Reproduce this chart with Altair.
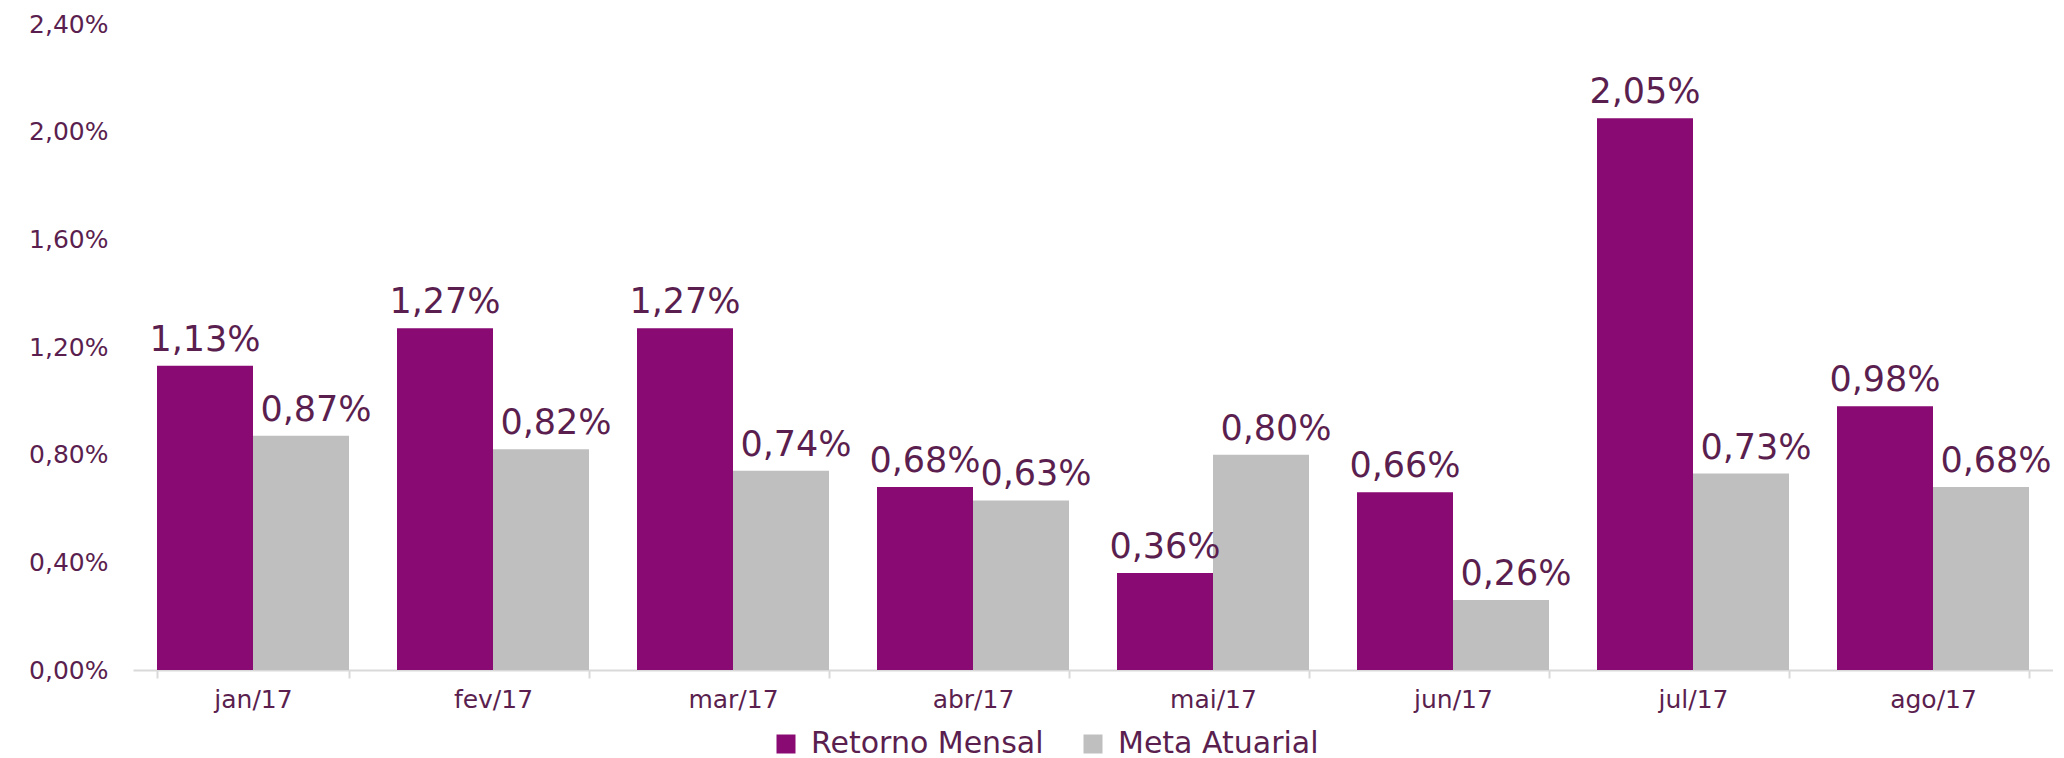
import altair as alt
import pandas as pd

months = ["jan/17", "fev/17", "mar/17", "abr/17", "mai/17", "jun/17", "jul/17", "ago/17"]
retorno = [1.13, 1.27, 1.27, 0.68, 0.36, 0.66, 2.05, 0.98]
meta = [0.87, 0.82, 0.74, 0.63, 0.80, 0.26, 0.73, 0.68]
series = ["Retorno Mensal", "Meta Atuarial"]
y_ticks = [0, 0.4, 0.8, 1.2, 1.6, 2.0, 2.4]

rows = []
for m, r, a in zip(months, retorno, meta):
    for s, v in zip(series, (r, a)):
        rows.append({"mes": m, "serie": s, "valor": v,
                     "rotulo": f"{v:.2f}%".replace(".", ",")})
df = pd.DataFrame(rows)

TXT = "#5B1F4F"
FONT = "DejaVu Sans"

base = alt.Chart(df).encode(
    x=alt.X("mes:N", sort=months, title=None,
            scale=alt.Scale(paddingInner=0.2, paddingOuter=0.1),
            axis=alt.Axis(labelAngle=0, labelFontSize=25, labelColor=TXT, labelFont=FONT,
                          domainColor="#D9D9D9", domainWidth=2, tickColor="#D9D9D9",
                          tickWidth=2, tickSize=8, tickBand="extent", labelPadding=9,
                          grid=False)),
    xOffset=alt.XOffset("serie:N", sort=series),
    y=alt.Y("valor:Q", title=None,
            scale=alt.Scale(domain=[0, 2.4], nice=False),
            axis=alt.Axis(values=y_ticks, grid=False, domain=False, ticks=False,
                          labelFontSize=25, labelColor=TXT, labelFont=FONT,
                          labelPadding=25, minExtent=125, maxExtent=125,
                          labelExpr="replace(format(datum.value, '.2f'), '.', ',') + '%'")),
)

bars = base.mark_bar().encode(
    color=alt.Color("serie:N", sort=series,
                    scale=alt.Scale(domain=series, range=["#880A72", "#BFBFBF"]),
                    legend=alt.Legend(title=None, orient="none", direction="horizontal",
                                      legendX=638, legendY=705,
                                      symbolType="square", symbolSize=361,
                                      symbolStrokeWidth=0, labelFontSize=30,
                                      labelColor=TXT, labelFont=FONT, labelOffset=10,
                                      columnPadding=34, labelLimit=400))
)

labels_ret = base.mark_text(fontSize=35, font=FONT, color=TXT, baseline="alphabetic",
                            dy=-15).encode(text="rotulo:N").transform_filter(
    alt.datum.serie == series[0])
labels_meta = base.mark_text(fontSize=35, font=FONT, color=TXT, baseline="alphabetic",
                             dy=-15, dx=15).encode(text="rotulo:N").transform_filter(
    alt.datum.serie == series[1])

chart = (bars + labels_ret + labels_meta).properties(
    width=1920, height=646,
    padding={"top": 4, "left": 0, "right": 0, "bottom": 0},
).configure_view(stroke=None)

chart.save("out.html", embed_options={"renderer": "svg", "actions": False})
